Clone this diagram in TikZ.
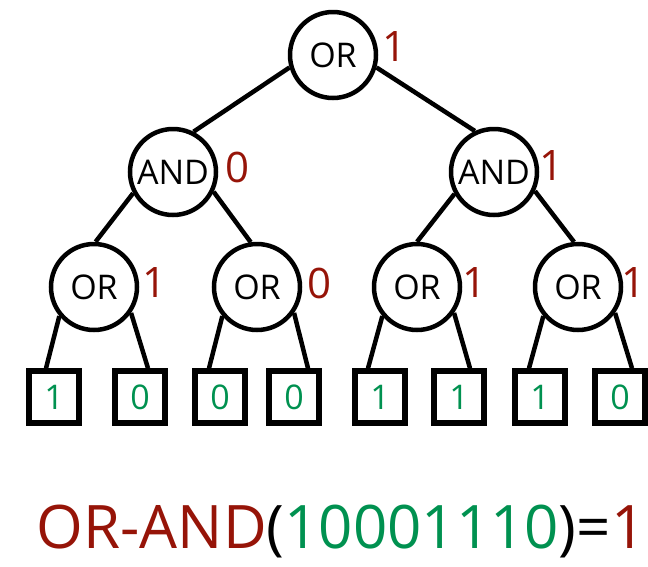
\documentclass[tikz,border=0pt]{standalone}
\usepackage{fontspec}
\setmainfont{Open Sans}
\usetikzlibrary{calc}
\definecolor{valred}{HTML}{961408}
\definecolor{leafgreen}{HTML}{009150}
\begin{document}
\begin{tikzpicture}[x=1pt,y=-1pt,
  gate/.style={circle,draw,line width=4.5pt,minimum size=86pt,inner sep=0pt,font=\fontsize{34}{34}\selectfont},
  leaf/.style={rectangle,draw,line width=5.5pt,minimum width=50pt,minimum height=52pt,inner sep=0pt,
               text=leafgreen,font=\fontsize{34}{34}\selectfont},
  val/.style={text=valred,inner sep=0pt,font=\fontsize{42}{42}\selectfont},
  wire/.style={line width=4.5pt}]
\useasboundingbox (0,0) rectangle (648,566);

% gates
\node[gate] (root) at (333,55) {OR};
\node[gate] (andL) at (173,172) {AND};
\node[gate] (andR) at (494,172) {AND};
\node[gate] (or1) at (94,287) {OR};
\node[gate] (or2) at (257,287) {OR};
\node[gate] (or3) at (417,287) {OR};
\node[gate] (or4) at (578,287) {OR};

% evaluated values
\node[val] (v0) at (395,47) {1};
\node[val] (v1) at (238,167) {0};
\node[val] (v2) at (552,166) {1};
\node[val] (v3) at (155,283) {1};
\node[val] (v4) at (320,283) {0};
\node[val] (v5) at (475,283) {1};
\node[val] (v6) at (634,283) {1};

% input bits
\node[leaf] (l1) at (54,397) {1};
\node[leaf] (l2) at (140,397) {0};
\node[leaf] (l3) at (220,397) {0};
\node[leaf] (l4) at (294,397) {0};
\node[leaf] (l5) at (380,397) {1};
\node[leaf] (l6) at (459,397) {1};
\node[leaf] (l7) at (540,397) {1};
\node[leaf] (l8) at (620,397) {0};

% wires
\draw[wire] (root.196) -- (andL.63);
\draw[wire] (root.-16) -- (andR.115);
\draw[wire] (andL.208) -- (or1.88);
\draw[wire] (andL.-26) -- (or2.98);
\draw[wire] (andR.209) -- (or3.90);
\draw[wire] (andR.-25) -- (or4.95);
\draw[wire] (or1.220) -- ($(l1.north)+(-8,0)$);
\draw[wire] (or1.-35) -- ($(l2.north)+(8,0)$);
\draw[wire] (or2.220) -- ($(l3.north)+(-11,0)$);
\draw[wire] (or2.-35) -- ($(l4.north)+(14,0)$);
\draw[wire] (or3.220) -- ($(l5.north)+(-12,0)$);
\draw[wire] (or3.-35) -- ($(l6.north)+(11,0)$);
\draw[wire] (or4.220) -- ($(l7.north)+(-11,0)$);
\draw[wire] (or4.-35) -- ($(l8.north)+(12,0)$);

% formula
\node[inner sep=0pt,font=\fontsize{60}{60}\selectfont] (formula) at (341,531)
  {\textcolor{valred}{OR-AND}(\textcolor{leafgreen}{10001110})=\textcolor{valred}{1}};
\end{tikzpicture}
\end{document}
